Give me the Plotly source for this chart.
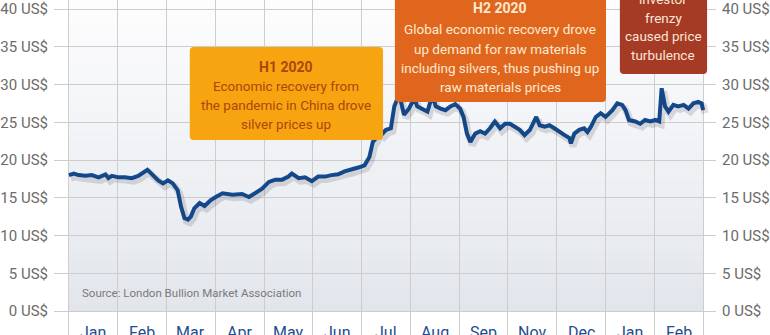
import plotly.graph_objects as go

# ---------------- data ----------------
month_labels = ["Jan", "Feb", "Mar", "Apr", "May", "Jun", "Jul", "Aug", "Sep", "Nov", "Dec", "Jan", "Feb"]
# position along the time axis in "column" units (one column per labelled month)
time_pos = [0.00, 0.10, 0.20, 0.34, 0.47, 0.61, 0.75, 0.81, 0.88, 1.02, 1.15, 1.29, 1.42, 1.52, 1.61,
            1.69, 1.83, 1.93, 2.03, 2.13, 2.23, 2.30, 2.37, 2.44, 2.50, 2.57, 2.68, 2.78, 2.91, 3.01,
            3.15, 3.35, 3.55, 3.69, 3.82, 3.96, 4.10, 4.23, 4.37, 4.50, 4.57, 4.71, 4.84, 4.98, 5.11,
            5.25, 5.38, 5.52, 5.65, 5.79, 5.93, 6.06, 6.16, 6.23, 6.30, 6.36, 6.43, 6.50, 6.60, 6.67,
            6.74, 6.80, 6.87, 6.97, 7.08, 7.14, 7.25, 7.35, 7.45, 7.52, 7.62, 7.72, 7.82, 7.92, 8.02,
            8.09, 8.16, 8.23, 8.33, 8.43, 8.53, 8.63, 8.73, 8.84, 8.94, 9.04, 9.14, 9.24, 9.34, 9.45,
            9.58, 9.65, 9.75, 9.85, 9.95, 10.05, 10.16, 10.26, 10.29, 10.36, 10.46, 10.56, 10.63, 10.70,
            10.80, 10.90, 11.00, 11.14, 11.24, 11.34, 11.41, 11.48, 11.61, 11.71, 11.81, 11.92, 12.02,
            12.10, 12.15, 12.22, 12.29, 12.39, 12.49, 12.60, 12.70, 12.80, 12.90, 12.97, 13.00]
silver_price = [18.0, 18.2, 18.0, 17.9, 18.0, 17.7, 18.1, 17.6, 17.9, 17.7, 17.7, 17.6, 17.9, 18.4, 18.7,
                18.2, 17.3, 16.9, 17.3, 16.9, 16.0, 13.8, 12.3, 12.1, 12.5, 13.6, 14.3, 13.9, 14.7, 15.1,
                15.6, 15.4, 15.5, 15.1, 15.6, 16.2, 17.1, 17.4, 17.4, 17.8, 18.2, 17.6, 17.7, 17.2, 17.8,
                17.8, 18.0, 18.1, 18.5, 18.7, 19.0, 19.3, 20.4, 22.4, 22.9, 24.2, 23.5, 24.0, 24.2, 27.1,
                28.2, 27.9, 26.0, 26.8, 28.2, 27.1, 26.8, 26.4, 28.6, 27.1, 26.8, 26.6, 27.1, 27.4, 26.8,
                25.7, 23.5, 22.4, 23.5, 23.8, 23.5, 24.2, 25.1, 24.2, 24.8, 24.8, 24.4, 24.0, 23.3, 24.0,
                25.7, 24.6, 24.4, 24.6, 24.2, 23.7, 23.3, 22.9, 22.2, 23.5, 24.0, 24.2, 23.7, 24.4,
                25.7, 26.2, 25.7, 26.6, 27.5, 27.3, 26.6, 25.3, 25.1, 24.8, 25.3, 25.1, 25.3,
                25.1, 29.5, 27.1, 26.4, 27.3, 27.1, 27.3, 26.8, 27.5, 27.7, 27.5, 26.6]
y_ticks = [0, 5, 10, 15, 20, 25, 30, 35, 40]
y_tick_text = [f"{v} US$" for v in y_ticks]

source_text = "Source: London Bullion Market Association"
box_h1_title = "H1 2020"
box_h1_lines = ["Economic recovery from", "the pandemic in China drove", "silver prices up"]
box_h2_title = "H2 2020"
box_h2_lines = ["Global economic recovery drove", "up demand for raw materials",
                "including silvers, thus pushing up", "raw materials prices"]
box_q1_lines = ["investor", "frenzy", "caused price", "turbulence"]

# ---------------- layout geometry ----------------
W, H = 770, 335
ML, MR = 50, 52
PW = W - ML - MR
n_cols = len(month_labels)
col_px = 640 / n_cols            # column width in pixels
x_min = -15 / col_px
x_max = n_cols + 13 / col_px
y_unit = 302 / 40                # pixels per US$
y_max = 40 + 9 / y_unit
y_min = -24 / y_unit

FONT = "Roboto, Liberation Sans, Arial, sans-serif"
GRID = "#cdcdcd"
LINE = "#124c93"


def px_x(px):
    return (px - ML) / PW


def px_y(py):
    return (H - py) / H


fig = go.Figure()

# shadow of the price line (same data, drawn on slightly shifted axes)
fig.add_trace(go.Scatter(x=time_pos, y=silver_price, mode="lines", xaxis="x2", yaxis="y3",
                         line=dict(color="rgba(40,40,60,0.15)", width=7), hoverinfo="skip",
                         showlegend=False))
# price line
fig.add_trace(go.Scatter(x=time_pos, y=silver_price, mode="lines",
                         line=dict(color=LINE, width=4), showlegend=False))
# invisible trace for the right-hand axis
fig.add_trace(go.Scatter(x=time_pos, y=silver_price, mode="lines", yaxis="y2",
                         line=dict(width=0), opacity=0, hoverinfo="skip", showlegend=False))

shapes = []
# vertical gradient background of the data area
n_bands = 40
top_c = (253, 253, 254)
bot_c = (226, 230, 236)
for i in range(n_bands):
    f = i / (n_bands - 1)
    c = tuple(round(bot_c[k] + (top_c[k] - bot_c[k]) * f) for k in range(3))
    shapes.append(dict(type="rect", xref="x", yref="y", x0=0, x1=n_cols,
                       y0=y_max * i / n_bands, y1=y_max * (i + 1) / n_bands + 0.05,
                       fillcolor="rgb(%d,%d,%d)" % c, line=dict(width=0), layer="below"))


def rounded_rect(x0p, y0p, x1p, y1p, r=4):
    """Rounded rectangle path in paper coordinates from pixel coordinates."""
    X0, X1 = px_x(x0p), px_x(x1p)
    Y0, Y1 = px_y(y1p), px_y(y0p)  # bottom, top
    rx, ry = r / PW, r / H
    return (f"M{X0+rx},{Y0} L{X1-rx},{Y0} Q{X1},{Y0} {X1},{Y0+ry} L{X1},{Y1-ry} "
            f"Q{X1},{Y1} {X1-rx},{Y1} L{X0+rx},{Y1} Q{X0},{Y1} {X0},{Y1-ry} "
            f"L{X0},{Y0+ry} Q{X0},{Y0} {X0+rx},{Y0} Z")


shapes.append(dict(type="path", xref="paper", yref="paper", path=rounded_rect(187, 47, 382, 140),
                   fillcolor="#f6a40f", line=dict(width=0), layer="above"))
shapes.append(dict(type="path", xref="paper", yref="paper", path=rounded_rect(394, -10, 607, 102),
                   fillcolor="#df661c", line=dict(width=0), layer="above"))
shapes.append(dict(type="path", xref="paper", yref="paper", path=rounded_rect(621, -10, 709, 74),
                   fillcolor="#a53a25", line=dict(width=0), layer="above"))

annotations = []


def text_at(px, py, text, size, color, bold=False):
    annotations.append(dict(x=px_x(px), xref="paper", y=px_y(py), yref="paper",
                            xanchor="center", yanchor="middle",
                            text=("<b>%s</b>" % text) if bold else text, showarrow=False,
                            font=dict(family=FONT, size=size, color=color)))


# month labels (centred in each column, partly cut by the bottom edge)
for i, m in enumerate(month_labels):
    annotations.append(dict(x=i + 0.5, xref="x", y=px_y(332), yref="paper",
                            xanchor="center", yanchor="middle", text=m, showarrow=False,
                            font=dict(family=FONT, size=16, color="#1d4e8f")))
annotations.append(dict(x=px_x(76), xref="paper", y=px_y(293), yref="paper", xanchor="left",
                        yanchor="middle", text=source_text, showarrow=False,
                        font=dict(family=FONT, size=11.5, color="#7a7a7a")))

# H1 box
h1_col = "#ad450e"
text_at(284.5, 66.5, box_h1_title, 14, h1_col, bold=True)
for k, ln in enumerate(box_h1_lines):
    text_at(284.5, 86.5 + 18.6 * k, ln, 13.5, h1_col)
# H2 box
h2_col = "#fde9d2"
text_at(500.5, 8.5, box_h2_title, 14, h2_col, bold=True)
for k, ln in enumerate(box_h2_lines):
    text_at(500.5, 29.5 + 19.2 * k, ln, 13.5, h2_col)
# Q1 2021 box
for k, ln in enumerate(box_q1_lines):
    text_at(665, -0.5 + 18.5 * k, ln, 13.5, "#fbe6d6")

axis_font = dict(family=FONT, size=15, color="#6b6b6b")
fig.update_layout(
    width=W, height=H,
    margin=dict(l=ML, r=MR, t=0, b=0, pad=0),
    paper_bgcolor="white", plot_bgcolor="rgba(0,0,0,0)",
    xaxis=dict(range=[x_min, x_max], tickvals=list(range(n_cols + 1)), showticklabels=False,
               showgrid=True, gridcolor=GRID, gridwidth=1, zeroline=False, showline=False,
               ticks=""),
    xaxis2=dict(range=[x_min - 2 / col_px, x_max - 2 / col_px], overlaying="x", visible=False),
    yaxis=dict(range=[y_min, y_max], tickvals=y_ticks, ticktext=y_tick_text, showgrid=True,
               gridcolor=GRID, gridwidth=1, zeroline=False, showline=False, ticks="",
               tickfont=axis_font, ticklabelstandoff=5, ticklabeloverflow="allow"),
    yaxis2=dict(range=[y_min, y_max], tickvals=y_ticks, ticktext=y_tick_text, overlaying="y",
                side="right", showgrid=False, zeroline=False, showline=False, ticks="",
                tickfont=axis_font, ticklabelstandoff=5, ticklabeloverflow="allow"),
    yaxis3=dict(range=[y_min + 3 / y_unit, y_max + 3 / y_unit], overlaying="y", visible=False),
    shapes=shapes,
    annotations=annotations,
    showlegend=False,
)

fig.write_html("out.html")
